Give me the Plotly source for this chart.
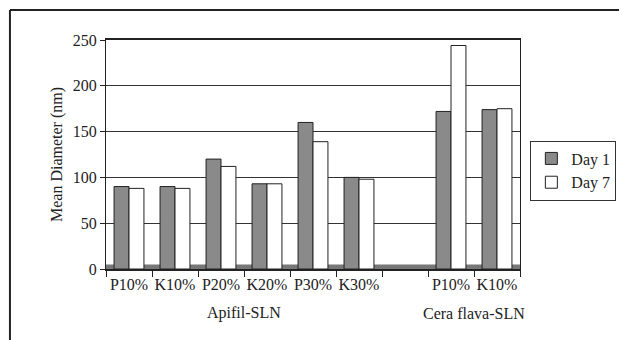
import plotly.graph_objects as go

categories = ["P10%", "K10%", "P20%", "K20%", "P30%", "K30%", "", "P10%", "K10%"]
day1 = [90, 90, 120, 93, 160, 100, None, 172, 174]
day7 = [88, 88, 112, 93, 139, 98, None, 244, 175]
groups = ["Apifil-SLN", "Cera flava-SLN"]
group_centers = [2.5, 7.5]
y_ticks = [0, 50, 100, 150, 200, 250]

xpos = list(range(len(categories)))
font = "Liberation Serif"

fig = go.Figure()
fig.add_trace(go.Bar(x=xpos, y=day1, name="Day 1",
                     marker=dict(color="#8a8a8a", line=dict(color="#222", width=1))))
fig.add_trace(go.Bar(x=xpos, y=day7, name="Day 7",
                     marker=dict(color="white", line=dict(color="#222", width=1))))

fig.update_layout(
    width=627, height=340,
    margin=dict(l=98, r=115, t=32, b=79),
    paper_bgcolor="white", plot_bgcolor="white",
    barmode="group", bargap=0.35, bargroupgap=0,
    font=dict(family=font, size=16, color="#222"),
    showlegend=True,
    legend=dict(x=1.025, y=0.43, xanchor="left", yanchor="middle",
                bordercolor="#333", borderwidth=1, bgcolor="white",
                itemwidth=30, tracegroupgap=0,
                font=dict(family=font, size=16)),
)
fig.update_xaxes(
    range=[-0.5, len(categories) - 0.5],
    tickmode="array", tickvals=xpos, ticktext=categories, ticks="",
    showline=True, linecolor="#222", linewidth=2, mirror=True,
    showgrid=False, zeroline=False,
    tickfont=dict(family=font, size=16),
    minor=dict(tickmode="linear", tick0=-0.5, dtick=1, ticks="outside",
               ticklen=6, tickcolor="#222", showgrid=False),
)
fig.update_yaxes(
    range=[0, 250], tickvals=y_ticks, ticks="outside", ticklen=5,
    tickcolor="#222",
    showline=True, linecolor="#222", linewidth=1, mirror=True,
    showgrid=True, gridcolor="#333", gridwidth=1, zeroline=False,
    title=dict(text="Mean Diameter (nm)", font=dict(family=font, size=16), standoff=6),
    tickfont=dict(family=font, size=16),
)
for g, c in zip(groups, group_centers):
    fig.add_annotation(x=c, y=0, xref="x", yref="paper", yshift=-44,
                       text=g, showarrow=False,
                       font=dict(family=font, size=16), yanchor="middle")

# floor of the chart
fig.add_shape(type="rect", xref="x domain", yref="y", x0=0, x1=1, y0=0, y1=5,
              fillcolor="#777", line=dict(width=0), layer="below")

# outer chart frame (top and left border)
fig.add_shape(type="line", xref="paper", yref="paper",
              x0=-0.232, x1=1.3, y0=1.131, y1=1.131, line=dict(color="#222", width=2))
fig.add_shape(type="line", xref="paper", yref="paper",
              x0=-0.232, x1=-0.232, y0=1.131, y1=-0.4, line=dict(color="#222", width=2))

fig.write_html("out.html")
